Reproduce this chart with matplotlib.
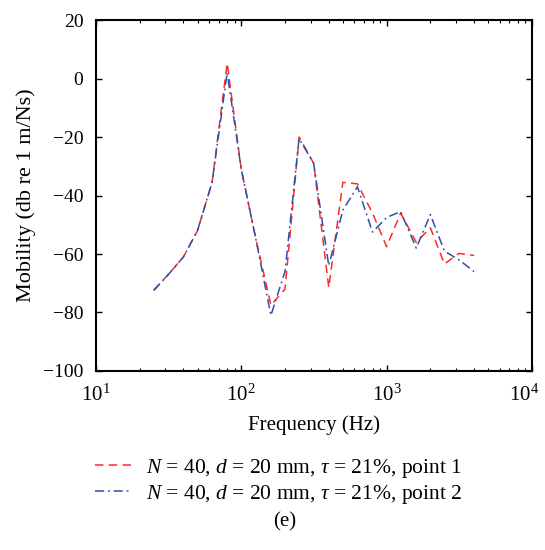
import numpy as np
import matplotlib.pyplot as plt
import matplotlib.transforms as mtransforms

# third-octave band centre frequencies (Hz)
freq = [25, 31.5, 40, 50, 63, 80, 100, 125, 160, 200, 250, 315, 400,
        500, 630, 800, 1000, 1250, 1600, 2000, 2500, 3150, 4000]

# mobility, dB re 1 m/Ns
point1 = [-72.3, -67, -61, -52, -35.5, 5.3, -31, -54, -77.5, -72, -20, -29, -71.5,
          -35.5, -36, -46, -57.5, -46, -56, -51, -63.4, -59.8, -60.5]
point2 = [-72.5, -67, -61, -52, -35.5, 2.0, -31, -54, -81, -66, -20.5, -29, -64,
          -45, -37, -52.5, -47.5, -45.5, -58, -46.5, -59, -62, -66]

labels = [r'$N$ = 40, $d$ = 20 mm, $\tau$ = 21%, point 1',
          r'$N$ = 40, $d$ = 20 mm, $\tau$ = 21%, point 2']

plt.rcParams['font.family'] = 'Liberation Serif'
plt.rcParams['mathtext.fontset'] = 'custom'
plt.rcParams['mathtext.it'] = 'Liberation Serif:italic'
plt.rcParams['mathtext.rm'] = 'Liberation Serif'

fig = plt.figure(figsize=(5.45, 5.5), dpi=100)
ax = fig.add_axes([0.176, 0.3255, 0.8, 0.638])

ax.plot(freq, point1, color='#ff2a2a', linestyle=(0, (5.5, 3.5)), linewidth=1.1, label=labels[0])
ax.plot(freq, point2, color='#2f4fa8', linestyle=(0, (6, 2.5, 1.2, 2.5)), linewidth=1.1, label=labels[1])

ax.set_xscale('log')
ax.set_xlim(10, 1e4)
ax.set_ylim(-100, 20)
ax.set_xticks([1e1, 1e2, 1e3, 1e4])
ax.set_yticks(np.arange(-100, 21, 20))
ax.tick_params(which='both', direction='in', top=True, right=True, labelsize=14)
ax.tick_params(which='major', length=4, width=1)
ax.tick_params(which='minor', length=2.5, width=0.8)
ax.tick_params(axis='x', which='major', pad=9.5, labelsize=15)
ax.tick_params(axis='y', which='major', pad=9)
for s in ax.spines.values():
    s.set_linewidth(1.5)

# nudge the last x label left so it stays inside the figure
last = ax.get_xticklabels()[-1]
last.set_transform(last.get_transform() +
                   mtransforms.ScaledTranslation(-8 / 100, 0, fig.dpi_scale_trans))

ax.set_xlabel('Frequency (Hz)', fontsize=15, labelpad=7)
ax.set_ylabel('Mobility (db re 1 m/Ns)', fontsize=16, labelpad=5)

fig.legend(loc='center', bbox_to_anchor=(0.511, 0.125), frameon=False, fontsize=15.5,
           handlelength=1.7, labelspacing=0.15, handletextpad=0.7)
fig.text(0.523, 0.051, '(e)', ha='center', va='center', fontsize=15)

fig.savefig('out.png', dpi=100)
